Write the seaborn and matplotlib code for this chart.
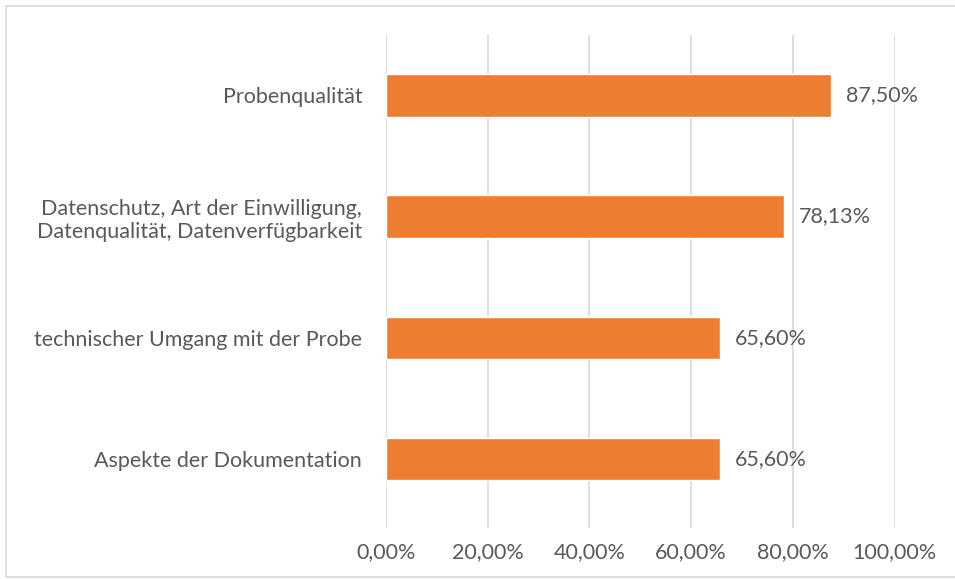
import numpy as np
import pandas as pd
import seaborn as sns
import matplotlib.pyplot as plt
from matplotlib.patches import Rectangle

# data
categories = ["Probenqualität",
              "Datenschutz, Art der Einwilligung,\nDatenqualität, Datenverfügbarkeit",
              "technischer Umgang mit der Probe",
              "Aspekte der Dokumentation"]
values = [87.50, 78.13, 65.60, 65.60]
ticks = [0, 20, 40, 60, 80, 100]

df = pd.DataFrame({"cat": categories, "val": values})

sns.set_style("white")
plt.rcParams['font.family'] = ['Lato', 'DejaVu Sans']
text_col = "#595959"
fs = 15.5

fig = plt.figure(figsize=(9.55, 5.79), dpi=100)
ax = fig.add_axes([0.404, 0.088, 0.533, 0.852])

sns.barplot(data=df, x="val", y="cat", color="#ED7D31", width=0.35,
            saturation=1, ax=ax, zorder=3)

ax.set_xlim(0, 100)
ax.set_ylim(3.57, -0.5)
ax.set_xticks(ticks)
ax.set_xticklabels([f"{t:.2f}%".replace(".", ",") for t in ticks],
                   fontsize=fs, color=text_col)
ax.tick_params(axis="x", length=0, pad=10)
ax.tick_params(axis="y", length=0, pad=17, labelsize=fs, labelcolor=text_col)
for lbl in ax.get_yticklabels():
    lbl.set_horizontalalignment("right")
ax.grid(axis="x", color="#d9d9d9", linewidth=1.2, zorder=0)
for s in ax.spines.values():
    s.set_visible(False)
ax.set_xlabel("")
ax.set_ylabel("")

for i, v in enumerate(values):
    ax.text(v + 3.0, i, f"{v:.2f}%".replace(".", ","), va="center", ha="left",
            fontsize=fs, color=text_col)

# light frame around chart
fig.patches.append(Rectangle((6 / 955, 2 / 579), 1.1, 571 / 579, transform=fig.transFigure,
                             fill=False, edgecolor="#d9d9d9", linewidth=1.2))

fig.savefig("out.png", dpi=100)
